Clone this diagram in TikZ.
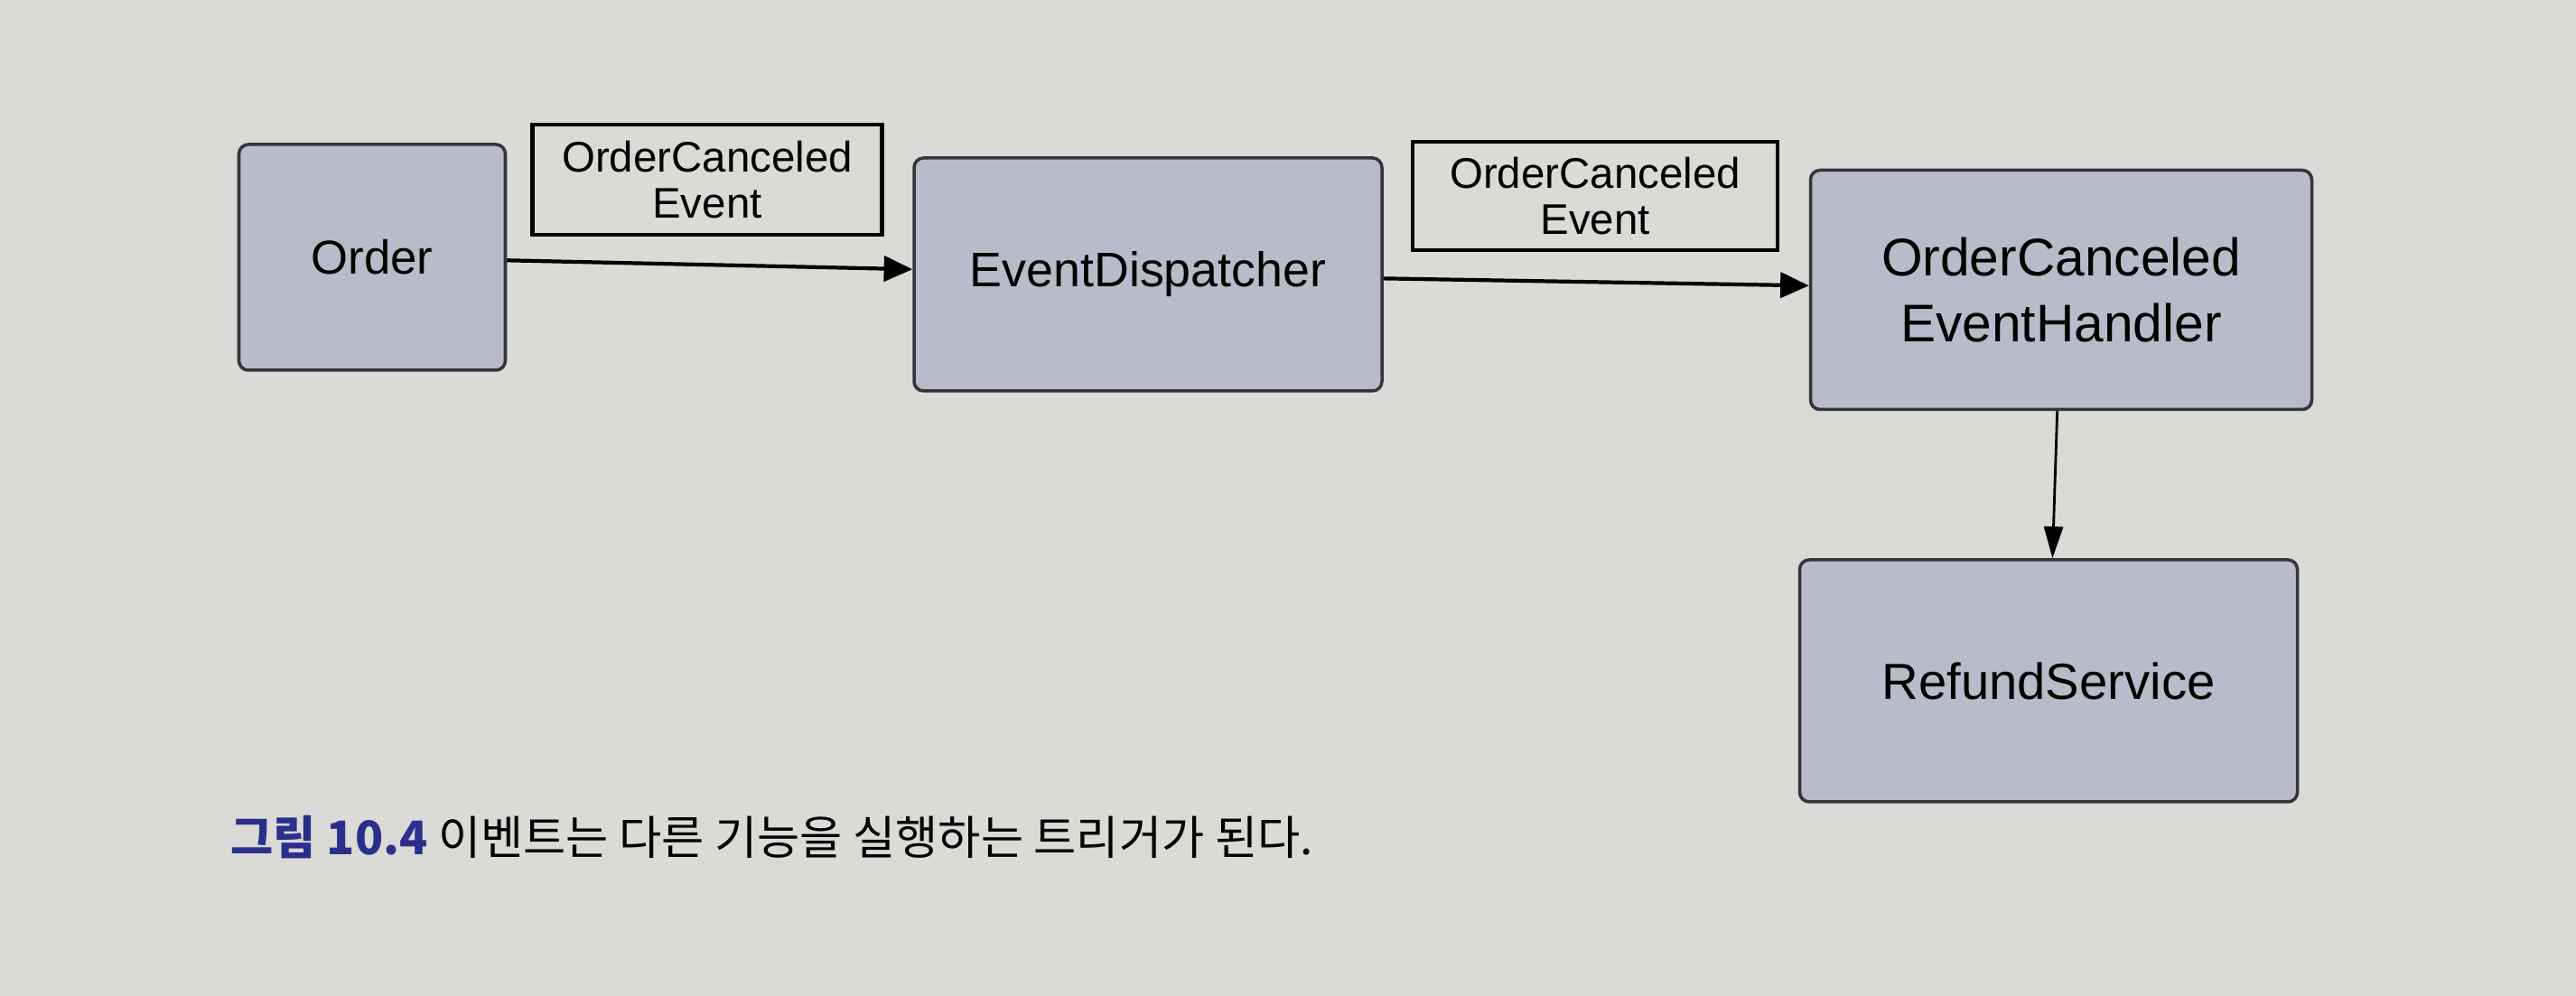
\documentclass[tikz,border=0pt]{standalone}
\usepackage{fontspec}
\setmainfont{Liberation Sans}
\newfontfamily\krfont{Noto Sans CJK KR}
\usetikzlibrary{arrows.meta}
\definecolor{paper}{HTML}{DADAD6}
\definecolor{boxfill}{HTML}{B8BBCA}
\definecolor{boxline}{HTML}{34343A}
\definecolor{capblue}{HTML}{2B2F8C}
\begin{document}
\begin{tikzpicture}[
    comp/.style={draw=boxline, line width=1pt, fill=boxfill, rounded corners=3pt,
      align=center, inner sep=0pt, font=\fontsize{15}{20.7}\selectfont},
    evlabel/.style={draw=black, line width=1.3pt, align=center, inner sep=0pt,
      font=\fontsize{13.5}{14.6}\selectfont},
    flow/.style={-{Triangle[length=9pt,width=8pt]}, line width=1.2pt},
    call/.style={-{Triangle[length=10pt,width=6pt]}, line width=0.8pt},
  ]
  \fill[paper] (0,0) rectangle (28.52,11.03);
  \useasboundingbox (0,0) rectangle (28.52,11.03);
  \draw
    (4.12,8.18) node[comp, minimum width=2.95cm, minimum height=2.50cm] (order) {Order}
    (7.83,9.04) node[evlabel, minimum width=3.87cm, minimum height=1.22cm] (evt1) {OrderCanceled\\Event}
    (12.71,7.99) node[comp, minimum width=5.18cm, minimum height=2.58cm,
      font=\fontsize{15.3}{20.7}\selectfont] (dispatcher) {EventDispatcher}
    (17.66,8.86) node[evlabel, minimum width=4.04cm, minimum height=1.20cm] (evt2) {OrderCanceled\\Event}
    (22.82,7.82) node[comp, minimum width=5.55cm, minimum height=2.65cm,
      font=\fontsize{16.7}{20.7}\selectfont] (handler) {OrderCanceled\\EventHandler}
    (22.68,3.49) node[comp, minimum width=5.51cm, minimum height=2.68cm,
      font=\fontsize{16}{20.7}\selectfont] (refund) {RefundService};
  \node[anchor=west, inner sep=0pt, font=\krfont\fontsize{14.6}{17}\selectfont] (caption) at (2.55,1.76)
    {{\color{capblue}\bfseries 그림 10.4} 이벤트는 다른 기능을 실행하는 트리거가 된다.};
  \begin{scope}[flow]
    \draw (order) to (dispatcher);
    \draw (dispatcher) to (handler);
  \end{scope}
  \draw[call] (handler) to (refund);
\end{tikzpicture}
\end{document}
